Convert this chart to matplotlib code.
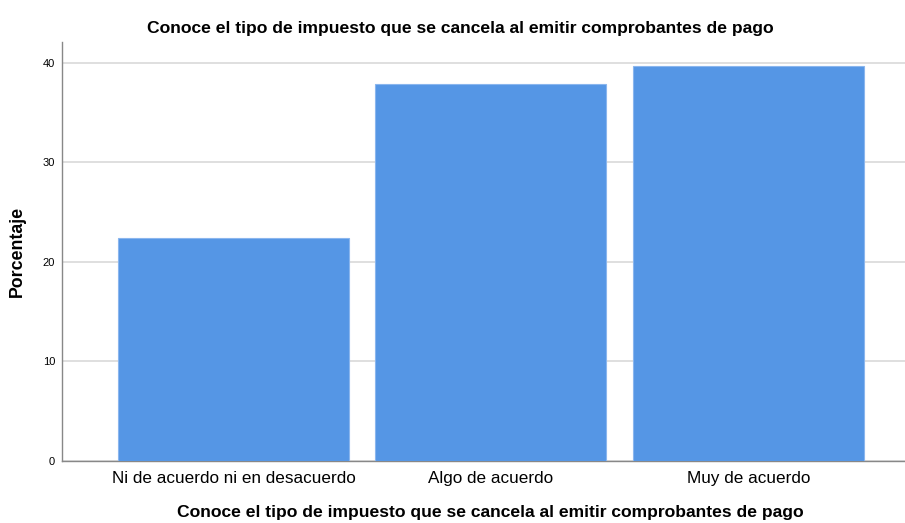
import matplotlib
matplotlib.use("Agg")
import matplotlib.pyplot as plt

categories = ["Ni de acuerdo ni en desacuerdo", "Algo de acuerdo", "Muy de acuerdo"]
values = [22.4, 37.9, 39.7]
yticks = [0, 10, 20, 30, 40]
title = "Conoce el tipo de impuesto que se cancela al emitir comprobantes de pago"

plt.rcParams['font.family'] = ['Liberation Sans', 'DejaVu Sans']

W, H = 905, 523
fig = plt.figure(figsize=(W/100, H/100), dpi=100)
left, right, top, bottom = 62, 905, 42, 461
ax = fig.add_axes([left/W, 1-bottom/H, (right-left)/W, (bottom-top)/H])

x = list(range(len(categories)))
ax.bar(x, values, width=0.897, color="#5596E5", edgecolor="#8AB6EE", linewidth=0.8, zorder=3)
ax.set_xlim(-0.666, 2.608)
ax.set_ylim(0, 42.1)
ax.set_yticks(yticks)
ax.set_yticklabels([str(t) for t in yticks], fontsize=8)
ax.set_xticks(x)
ax.set_xticklabels(categories, fontsize=12.3)
ax.yaxis.grid(True, color="#D9D9D9", linewidth=1.2, zorder=0)
ax.set_axisbelow(True)
for s in ["top", "right"]:
    ax.spines[s].set_visible(False)
for s in ["left", "bottom"]:
    ax.spines[s].set_color("#888888")
    ax.spines[s].set_linewidth(1.0)
ax.tick_params(axis='x', length=0, pad=7)
ax.tick_params(axis='y', length=0, pad=5)
fig.text(17/W, 1-251/H, "Porcentaje", ha="center", va="center", rotation=90,
         fontsize=12.8, fontweight="bold")
fig.text(490/W, 1-513/H, title, ha="center", va="center", fontsize=12.6, fontweight="bold")
fig.text(460/W, 1-28/H, title, ha="center", va="center", fontsize=12.6, fontweight="bold")

fig.savefig("out.png", dpi=100)
